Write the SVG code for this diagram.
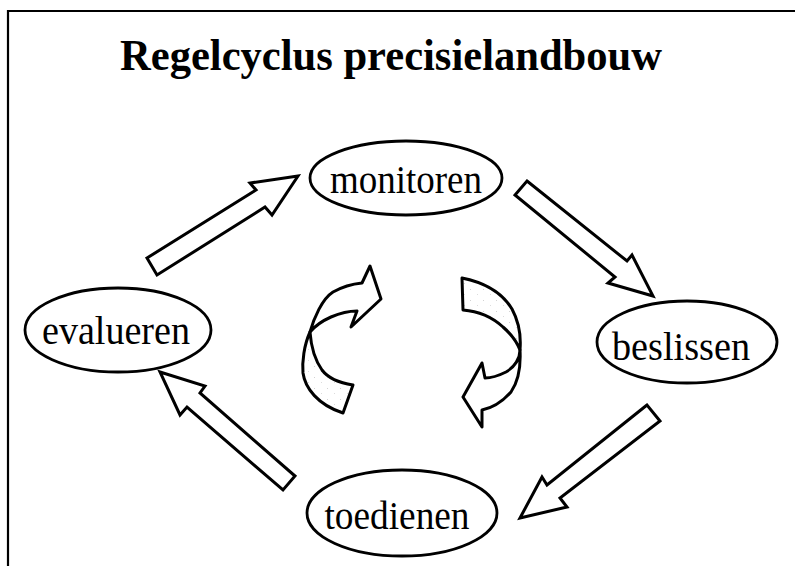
<svg xmlns="http://www.w3.org/2000/svg" width="795" height="566" viewBox="0 0 795 566">
  <defs>
    <style>
      .frame { fill: none; stroke: #000; stroke-width: 2.2; }
      .node ellipse { fill: #fff; stroke: #000; stroke-width: 2.8; }
      .node text { font-family: "Liberation Serif", "Times New Roman", serif; font-size: 40px; fill: #000; text-anchor: middle; }
      .title { font-family: "Liberation Serif", "Times New Roman", serif; font-size: 45px; font-weight: bold; fill: #000; }
      .block { fill: #fff; stroke: #000; stroke-width: 3; stroke-linejoin: miter; }
      .ribbon { fill: #fff; stroke: #000; stroke-width: 3; stroke-linejoin: round; }
      .ribbon-back { fill: url(#stipple); stroke: #000; stroke-width: 3; stroke-linejoin: round; }
    </style>
    <!-- sparse grey dots for the back face of the twisted ribbons -->
    <pattern id="stipple" width="13" height="11" patternUnits="userSpaceOnUse">
      <rect width="13" height="11" fill="#fff"/>
      <rect x="2" y="3" width="1" height="1" fill="#d2d2d2"/>
      <rect x="9" y="8" width="1" height="1" fill="#dcdcdc"/>
    </pattern>
  </defs>

  <rect width="795" height="566" fill="#fff"/>

  <!-- page frame: top and left edges -->
  <path class="frame" d="M8,566 L8,11 L795,11"/>

  <text class="title" x="120" y="70" textLength="542" lengthAdjust="spacingAndGlyphs">Regelcyclus precisielandbouw</text>

  <!-- cycle connectors -->
  <g id="connectors">
    <!-- evalueren -> monitoren -->
    <polygon class="block" points="147,258 256,190 250,183 298,176 272,215 265,207 157,275"/>
    <!-- monitoren -> beslissen -->
    <polygon class="block" points="527,181 627,261 632,255 653,296 608,283 615,277 515,195"/>
    <!-- beslissen -> toedienen -->
    <polygon class="block" points="647,405 547,485 542,477 520,518 567,507 560,498 660,421"/>
    <!-- toedienen -> evalueren -->
    <polygon class="block" points="160,372 205,386 200,393 295,476 283,490 187,407 180,415"/>

    <!-- central twisted arrow, left -->
    <g id="swirl-left">
      <path class="ribbon-back" d="M310,332 C304,345 302,362 303,373 C305,388 318,405 343,413 L353,385 C340,383 328,378 322,370 C315,360 311,346 310,332 Z"/>
      <path class="ribbon" d="M310,332 C314,318 322,299 333,292 C342,287 352,284 362,283 L370,266 L381,299 L351,327 L357,311 C347,311 338,314 331,317 C322,321 315,326 310,332 Z"/>
    </g>

    <!-- central twisted arrow, right -->
    <g id="swirl-right">
      <path class="ribbon-back" d="M462,278 L463,310 C476,311 491,316 503,327 C511,334 517,342 520,350 C521,338 519,322 512,309 C503,294 487,283 462,278 Z"/>
      <path class="ribbon" d="M520,350 C520,358 515,367 506,372 C498,376 490,378 485,378 L482,363 L463,397 L482,427 L482,410 C492,408 503,401 511,392 C518,382 521,368 520,350 Z"/>
    </g>
  </g>

  <g id="monitoren" class="node">
    <ellipse cx="406" cy="178" rx="96" ry="37"/>
    <text x="406" y="193" textLength="152" lengthAdjust="spacingAndGlyphs">monitoren</text>
  </g>

  <g id="beslissen" class="node">
    <ellipse cx="687" cy="342" rx="90" ry="41"/>
    <text x="681" y="360" textLength="138" lengthAdjust="spacingAndGlyphs">beslissen</text>
  </g>

  <g id="toedienen" class="node">
    <ellipse cx="402" cy="513" rx="95" ry="43"/>
    <text x="397" y="529" textLength="145" lengthAdjust="spacingAndGlyphs">toedienen</text>
  </g>

  <g id="evalueren" class="node">
    <ellipse cx="118" cy="330" rx="93" ry="42"/>
    <text x="116" y="344" textLength="148" lengthAdjust="spacingAndGlyphs">evalueren</text>
  </g>
</svg>
